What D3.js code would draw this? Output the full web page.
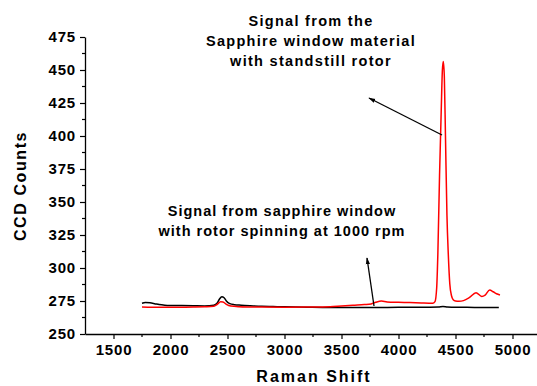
<!DOCTYPE html>
<html>
<head>
<meta charset="utf-8">
<script src="https://cdn.jsdelivr.net/npm/d3@7"></script>
<style>
  html, body { margin: 0; padding: 0; background: #fff; }
  svg { display: block; font-family: "Liberation Sans", Arial, sans-serif; font-weight: bold; }
</style>
</head>
<body>
<svg id="chart" width="537" height="386"></svg>
<script>
// ---- Data ----
const xTicks = [1500, 2000, 2500, 3000, 3500, 4000, 4500, 5000];
const yTicks = [250, 275, 300, 325, 350, 375, 400, 425, 450, 475];

// Rotor spinning at 1000 rpm (black)
const spinShift = [1750, 1780, 1820, 1860, 1900, 1950, 2000, 2100, 2200, 2300, 2380, 2410, 2430, 2450, 2470, 2490, 2520, 2560, 2620, 2700, 2800, 2900, 3000, 3200, 3400, 3600, 3800, 4000, 4200, 4350, 4390, 4430, 4500, 4600, 4700, 4800, 4880];
const spinCounts = [273.3, 273.8, 273.6, 273.0, 272.3, 271.8, 271.6, 271.5, 271.4, 271.3, 271.8, 273.5, 276.5, 278.3, 277.5, 275.0, 273.0, 272.2, 271.8, 271.4, 271.0, 270.8, 270.6, 270.3, 270.1, 270.1, 270.1, 270.2, 270.2, 270.4, 270.9, 270.4, 270.2, 270.2, 270.1, 270.0, 270.0];

// Standstill rotor (red)
const stillShift = [1750, 1800, 1900, 2000, 2100, 2200, 2300, 2380, 2410, 2440, 2460, 2490, 2530, 2600, 2700, 2800, 3000, 3200, 3400, 3500, 3600, 3700, 3760, 3800, 3850, 3900, 4000, 4100, 4200, 4300, 4320, 4335, 4345, 4360, 4375, 4385, 4393, 4402, 4412, 4425, 4437, 4450, 4465, 4480, 4500, 4530, 4570, 4620, 4680, 4730, 4760, 4800, 4830, 4860, 4890];
const stillCounts = [270.4, 270.3, 270.2, 270.2, 270.3, 270.4, 270.6, 271.0, 272.5, 274.5, 274.3, 272.5, 271.2, 270.7, 270.5, 270.4, 270.3, 270.4, 270.6, 271.2, 271.8, 272.3, 272.8, 274.0, 275.0, 274.3, 274.0, 273.8, 273.5, 273.3, 274.5, 285, 310, 370, 420, 450, 456.5, 445, 400, 340, 310, 288, 279, 276, 275, 274.8, 275.3, 277.5, 281.3, 278.5, 279.5, 283.3, 282.0, 280.5, 279.5];

const annotationTop = ["Signal from the", "Sapphire window material", "with standstill rotor"];
const annotationLow = ["Signal from sapphire window", "with rotor spinning at 1000 rpm"];

// ---- Layout ----
const svg = d3.select("#chart");
const x = d3.scaleLinear().domain([1250, 5250]).range([85, 541]);
const y = d3.scaleLinear().domain([250, 475]).range([334, 37]);

// Axes
const xAxis = d3.axisBottom(x).tickValues(xTicks).tickSize(5).tickSizeOuter(0).tickFormat(d3.format("d"));
const gx = svg.append("g").attr("transform", `translate(0,${y(250)})`).call(xAxis);
const xMinor = d3.range(1750, 5001, 500);
gx.selectAll(".minor").data(xMinor).enter().append("line")
  .attr("x1", d => x(d)).attr("x2", d => x(d)).attr("y1", 0).attr("y2", 3)
  .attr("stroke", "#000").attr("stroke-width", 1.2);

const yAxis = d3.axisLeft(y).tickValues(yTicks).tickSize(5).tickSizeOuter(0).tickFormat(d3.format("d"));
const gy = svg.append("g").attr("transform", `translate(${x(1250)},0)`).call(yAxis);
const yMinor = d3.range(262.5, 475, 25);
gy.selectAll(".minor").data(yMinor).enter().append("line")
  .attr("x1", 0).attr("x2", -3).attr("y1", d => y(d)).attr("y2", d => y(d))
  .attr("stroke", "#000").attr("stroke-width", 1.2);

[gx, gy].forEach(g => {
  g.select(".domain").attr("stroke", "#000").attr("stroke-width", 1.3);
  g.selectAll(".tick line").attr("stroke", "#000").attr("stroke-width", 1.2);
  g.selectAll(".tick text").attr("fill", "#000")
    .style("font-size", "15px").style("font-weight", "bold")
    .style("font-family", "'Liberation Sans', Arial, sans-serif")
    .style("letter-spacing", "0.8px");
});
gx.selectAll(".tick text").attr("dy", "0.95em").attr("y", 7);
gy.selectAll(".tick text").attr("x", -9);

// Axis titles
svg.append("text").attr("x", 314).attr("y", 382).attr("text-anchor", "middle")
  .style("font-size", "16px").style("letter-spacing", "2px").text("Raman Shift");
svg.append("text").attr("transform", "translate(26,186) rotate(-90)").attr("text-anchor", "middle")
  .style("font-size", "16px").style("letter-spacing", "1.6px").text("CCD Counts");

// Lines
const line = d3.line().x(d => x(d[0])).y(d => y(d[1])).curve(d3.curveMonotoneX);
const spin = spinShift.map((s, i) => [s, spinCounts[i]]);
const still = stillShift.map((s, i) => [s, stillCounts[i]]);
svg.append("path").datum(spin).attr("d", line).attr("fill", "none").attr("stroke", "#000").attr("stroke-width", 1.5);
svg.append("path").datum(still).attr("d", line).attr("fill", "none").attr("stroke", "#ff0000").attr("stroke-width", 1.5);

// Annotation texts
const t1 = svg.append("text").attr("text-anchor", "middle").style("font-size", "14.5px").style("letter-spacing", "1.3px");
annotationTop.forEach((s, i) => t1.append("tspan").attr("x", 311).attr("y", 26 + i * 20).text(s));
const t2 = svg.append("text").attr("text-anchor", "middle").style("font-size", "14.5px").style("letter-spacing", "1.0px");
annotationLow.forEach((s, i) => t2.append("tspan").attr("x", 282).attr("y", 216 + i * 20).text(s));

// Arrows
const defs = svg.append("defs");
defs.append("marker").attr("id", "ah").attr("viewBox", "0 0 10 10").attr("refX", 9).attr("refY", 5)
  .attr("markerWidth", 7).attr("markerHeight", 7).attr("orient", "auto-start-reverse")
  .attr("markerUnits", "userSpaceOnUse")
  .append("path").attr("d", "M0,2 L10,5 L0,8 Z").attr("fill", "#000");
svg.append("line").attr("x1", 442).attr("y1", 135).attr("x2", 369).attr("y2", 98)
  .attr("stroke", "#000").attr("stroke-width", 1.3).attr("marker-end", "url(#ah)");
svg.append("line").attr("x1", 374).attr("y1", 306).attr("x2", 367).attr("y2", 258)
  .attr("stroke", "#000").attr("stroke-width", 1.3).attr("marker-end", "url(#ah)");
</script>
</body>
</html>
